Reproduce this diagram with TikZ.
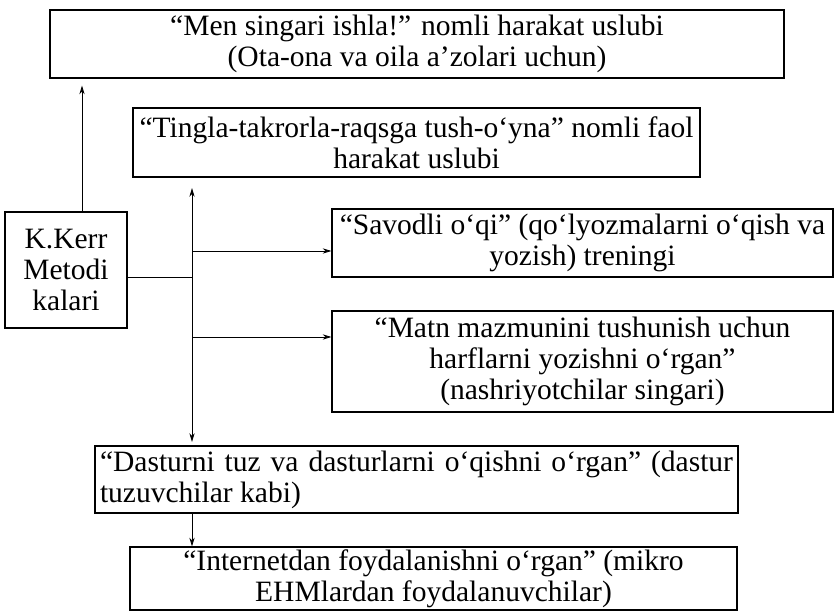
\documentclass[tikz,border=0pt]{standalone}
\usepackage{fontspec}
\setmainfont{Liberation Serif}
\usetikzlibrary{arrows.meta}
\begin{document}
\begin{tikzpicture}[box/.style={draw,line width=0.6pt,inner sep=0pt,align=center,font=\fontsize{16.8}{17.6}\selectfont},
arr/.style={line width=0.5pt,-{Stealth[length=5pt,width=3pt]}}]
\useasboundingbox (0,0) rectangle (16.68,12.24);
\node[box,minimum width=14.68cm,minimum height=1.36cm] (top) at (8.34,11.36) {“Men singari ishla!” nomli harakat uslubi\\(Ota-ona va oila a’zolari uchun)};
\node[box,minimum width=11.34cm,minimum height=1.38cm] (tingla) at (8.33,9.39) {“Tingla-takrorla-raqsga tush-o‘yna” nomli faol\\harakat uslubi};
\node[box,minimum width=2.44cm,minimum height=2.32cm] (kerr) at (1.32,6.84) {K.Kerr\\Metodi\\kalari};
\node[box,minimum width=10.02cm,minimum height=1.36cm] (savod) at (11.65,7.38) {“Savodli o‘qi” (qo‘lyozmalarni o‘qish va\\yozish) treningi};
\node[box,minimum width=10.02cm,minimum height=2.02cm] (matn) at (11.65,5.01) {“Matn mazmunini tushunish uchun\\harflarni yozishni o‘rgan”\\(nashriyotchilar singari)};
\node[box,inner xsep=0.1cm,text width=12.66cm,align=justify,minimum height=1.34cm] (dastur) at (8.33,2.65) {“Dasturni tuz va dasturlarni o‘qishni o‘rgan” (dastur\linebreak tuzuvchilar kabi)};
\node[box,minimum width=12.14cm,minimum height=1.26cm] (internet) at (8.67,0.67) {“Internetdan foydalanishni o‘rgan” (mikro\\EHMlardan foydalanuvchilar)};
\coordinate (jn) at (3.84,6.70);
\coordinate (b1) at (3.84,7.22);
\coordinate (b2) at (3.84,5.50);
\draw[arr,shorten >=4pt] ([xshift=0.32cm]kerr.north) -- ([xshift=0.32cm]kerr.north |- top.south);
\draw[line width=0.5pt] (kerr.east |- jn) -- (jn);
\draw[arr,shorten >=6pt] (jn) -- (jn |- tingla.south);
\draw[arr,shorten >=2pt] (jn) -- (jn |- dastur.north);
\draw[arr] (b1) -- (b1 -| savod.west);
\draw[arr] (b2) -- (b2 -| matn.west);
\draw[arr] (jn |- dastur.south) -- (jn |- internet.north);
\end{tikzpicture}
\end{document}
